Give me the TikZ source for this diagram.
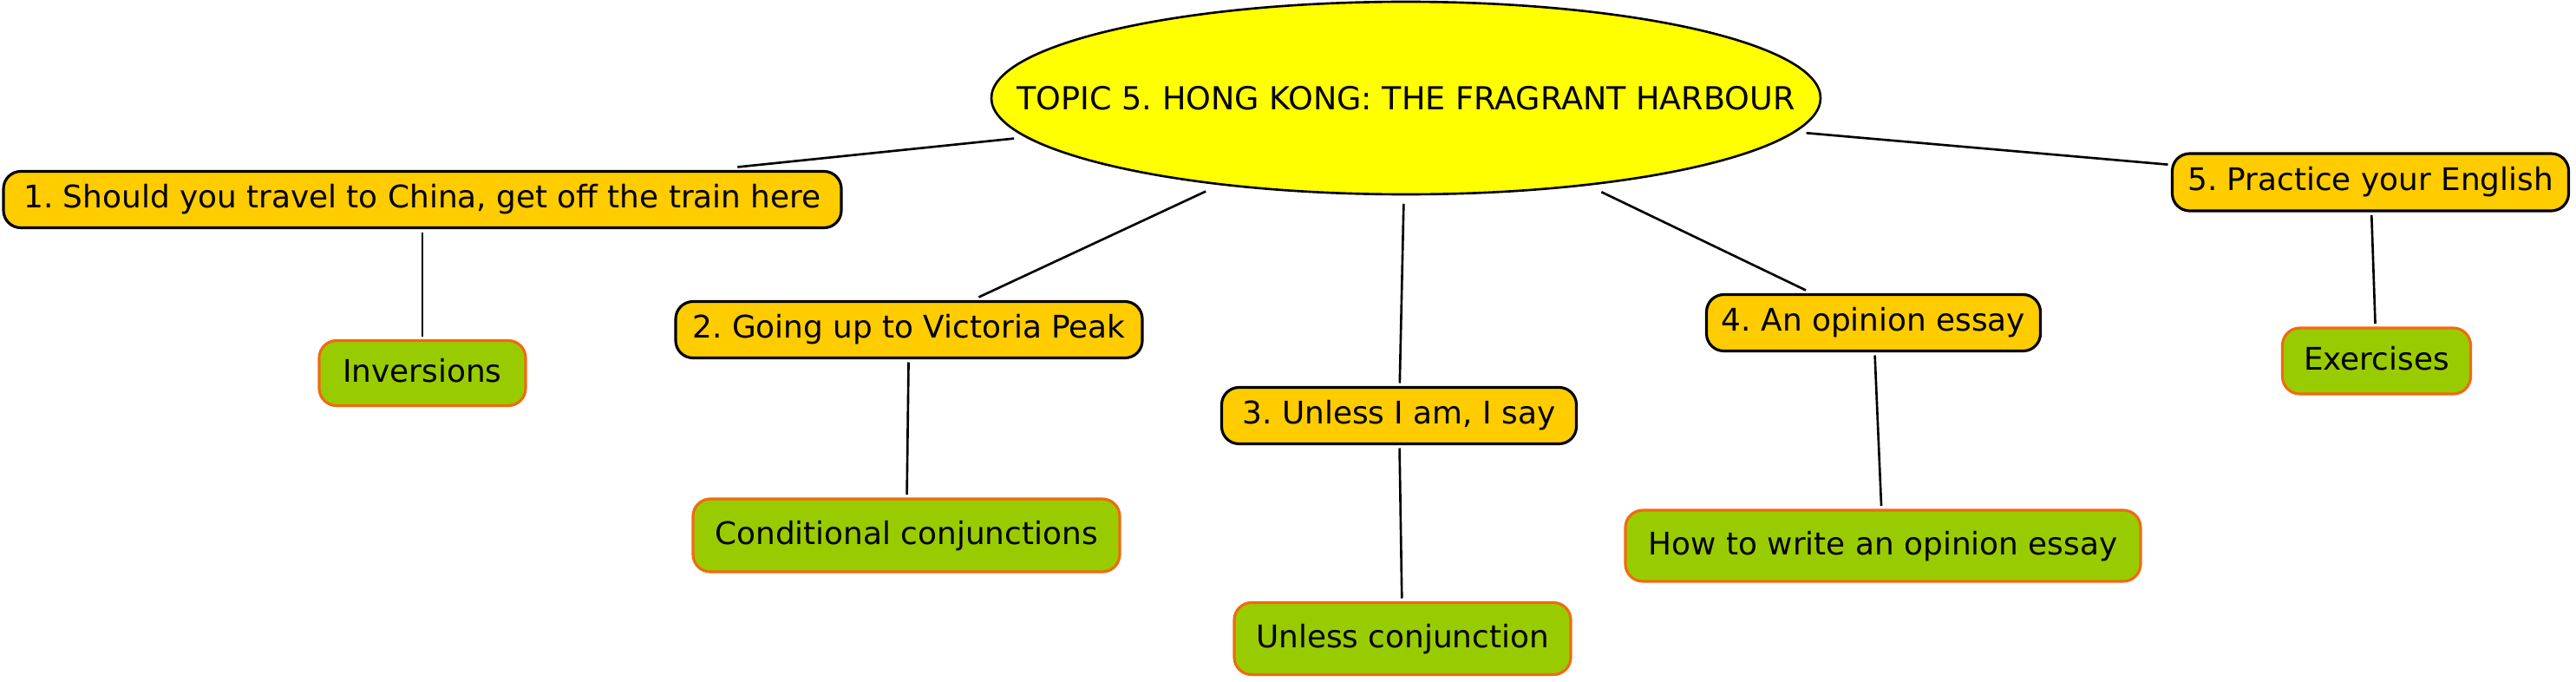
\documentclass[tikz,border=0pt]{standalone}
\usepackage{fontspec}
\setmainfont{DejaVu Sans}
\usetikzlibrary{shapes.geometric}
\frenchspacing

\definecolor{topicyellow}{HTML}{FFFF00}
\definecolor{partgold}{HTML}{FFCC00}
\definecolor{leafgreen}{HTML}{99CC00}
\definecolor{leafrim}{HTML}{F06A10}

\begin{document}
\begin{tikzpicture}[
  font=\fontsize{10.2pt}{12pt}\selectfont,
  topic/.style={ellipse,draw,line width=0.75pt,fill=topicyellow,
    minimum width=9.56cm,minimum height=2.22cm,inner xsep=-2cm,inner ysep=0pt,outer sep=0.11cm,
    text height=0.26cm,text depth=0cm,font=\fontsize{10.4pt}{12pt}\selectfont},
  part/.style={rectangle,rounded corners=0.2cm,draw,line width=0.9pt,fill=partgold,
    minimum height=0.65cm,inner sep=0pt,outer sep=0.05cm,text height=0.26cm,text depth=0.08cm},
  leaf/.style={rectangle,rounded corners=0.2cm,draw=leafrim,line width=0.9pt,fill=leafgreen,
    minimum height=0.8cm,inner sep=0pt,outer sep=0.05cm,text height=0.26cm,text depth=0.05cm},
  link/.style={line width=0.75pt}
]
\useasboundingbox (0,0) rectangle (29.70,-7.85);

\node[topic] (T) at (16.21,-1.13) {TOPIC 5. HONG KONG: THE FRAGRANT HARBOUR};

\node[part,minimum width=9.66cm] (A1) at (4.87,-2.30) {1. Should you travel to China, get off the train here};
\node[part,minimum width=5.38cm] (A2) at (10.48,-3.80) {2. Going up to Victoria Peak};
\node[part,minimum width=4.09cm] (A3) at (16.13,-4.79) {3. Unless I am, I say};
\node[part,minimum width=3.85cm] (A4) at (21.60,-3.72) {4. An opinion essay};
\node[part,minimum width=4.57cm,minimum height=0.66cm] (A5) at (27.33,-2.10) {5. Practice your English};

\node[leaf,minimum width=2.38cm,minimum height=0.75cm] (B1) at (4.87,-4.30) {Inversions};
\node[leaf,minimum width=4.92cm,minimum height=0.84cm] (B2) at (10.45,-6.17) {Conditional conjunctions};
\node[leaf,minimum width=3.88cm,minimum height=0.83cm] (B3) at (16.17,-7.36) {Unless conjunction};
\node[leaf,minimum width=5.94cm,minimum height=0.82cm] (B4) at (21.71,-6.29) {How to write an opinion essay};
\node[leaf,minimum width=2.17cm,minimum height=0.76cm] (B5) at (27.40,-4.16) {Exercises};

\draw[link] (T) -- (A1);
\draw[link] (T) -- (A2);
\draw[link] (T) -- (A3);
\draw[link] (T) -- (A4);
\draw[link] (T) -- (A5);

\draw[link] (A1) -- (B1);
\draw[link] (A2) -- (B2);
\draw[link] (A3) -- (B3);
\draw[link] (A4) -- (B4);
\draw[link] (A5) -- (B5);

\end{tikzpicture}
\end{document}
